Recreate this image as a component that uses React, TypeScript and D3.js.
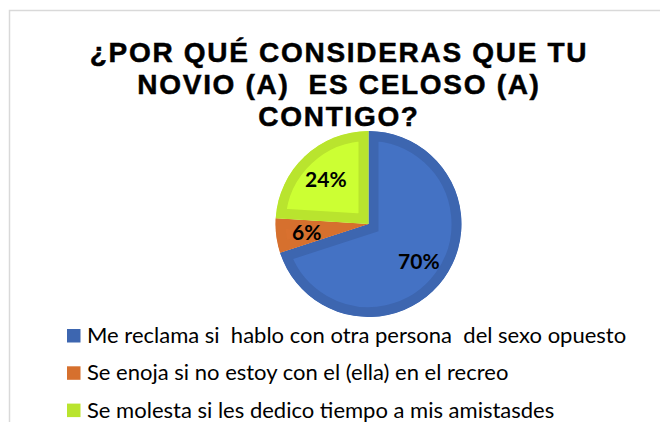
import React from "react";
import * as d3 from "d3";

const titleLines = ["¿POR QUÉ CONSIDERAS QUE TU", "NOVIO (A)  ES CELOSO (A)", "CONTIGO?"];
const categories = [
  "Me reclama si  hablo con otra persona  del sexo opuesto",
  "Se enoja si no estoy con el (ella) en el recreo",
  "Se molesta si les dedico tiempo a mis amistasdes",
];
const values = [70, 6, 24];
const innerColors = ["#4472c4", "#d9712f", "#ccff33"];
const bandColors = ["#3d66b0", "#d6702e", "#b9e42e"];

const W = 660;
const H = 422;
const cx = 368.5;
const cy = 224;
const R = 93;

export default function App() {
  const pie = d3.pie<number>().sort(null).value((d) => d);
  const arcs = pie(values);
  const arcGen = d3.arc<d3.PieArcDatum<number>>().innerRadius(0).outerRadius(R);
  const labelArc = d3.arc<d3.PieArcDatum<number>>().innerRadius(R * 0.67).outerRadius(R * 0.67);
  const total = d3.sum(values);

  const titleY = d3.scaleLinear().domain([0, 1]).range([62, 94]);
  const legendY = d3.scaleLinear().domain([0, 1]).range([343, 380.3]);

  return (
    <svg
      width={W}
      height={H}
      style={{ position: "absolute", left: 0, top: 0, display: "block", background: "#fff" }}
    >
      <rect x={9.5} y={10.5} width={700} height={500} fill="#fff" stroke="#d9d9d9" strokeWidth={1.5} />
      {titleLines.map((t, i) => (
        <text
          key={i}
          x={339}
          y={titleY(i)}
          textAnchor="middle"
          fontFamily="'Liberation Sans', Arial, sans-serif"
          fontWeight="bold"
          fontSize={28}
          letterSpacing={1.7}
          fill="#000"
          stroke="#000"
          strokeWidth={0.5}
          style={{ whiteSpace: "pre" }}
        >
          {t}
        </text>
      ))}
      <defs>
        {arcs.map((a, i) => (
          <clipPath id={`slice-clip-${i}`} key={i}>
            <path d={arcGen(a) || ""} transform={`translate(${cx},${cy})`} />
          </clipPath>
        ))}
      </defs>
      {arcs.map((a, i) => (
        <g key={i} clipPath={`url(#slice-clip-${i})`}>
          <path
            d={arcGen(a) || ""}
            transform={`translate(${cx},${cy})`}
            fill={innerColors[i]}
            stroke={bandColors[i]}
            strokeWidth={20}
            strokeLinejoin="miter"
          />
        </g>
      ))}
      {arcs.map((a, i) => {
        const [lx, ly] = labelArc.centroid(a);
        return (
          <text
            key={i}
            x={cx + lx}
            y={cy + ly}
            dy="0.38em"
            textAnchor="middle"
            fontFamily="Lato, 'Noto Sans', sans-serif"
            fontWeight="bold"
            fontSize={21}
            fill="#000"
          >
            {`${Math.round((values[i] / total) * 100)}%`}
          </text>
        );
      })}
      {categories.map((c, i) => (
        <g key={i}>
          <rect x={67} y={legendY(i) - 14} width={13.5} height={13.5} fill={bandColors[i]} />
          <text
            x={87}
            y={legendY(i)}
            fontFamily="Lato, 'Noto Sans', sans-serif"
            fontSize={22}
            fill="#000"
            style={{ whiteSpace: "pre" }}
          >
            {c}
          </text>
        </g>
      ))}
    </svg>
  );
}
